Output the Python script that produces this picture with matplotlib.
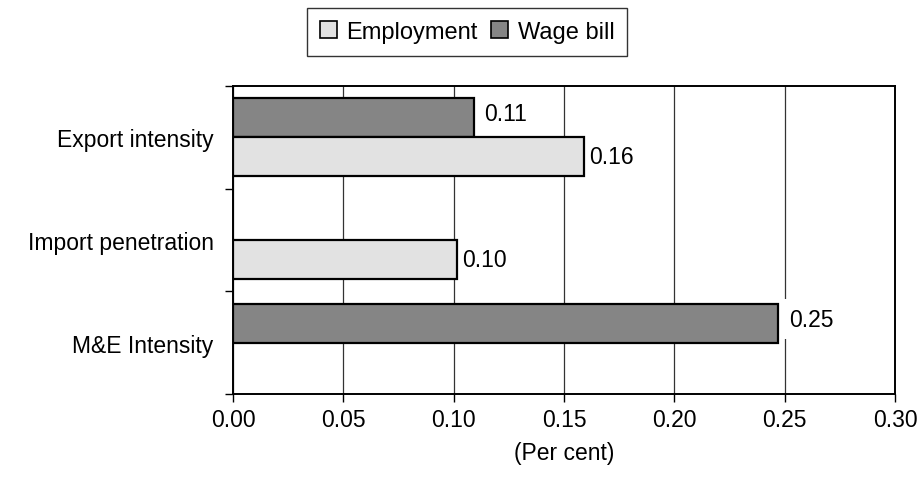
import matplotlib
matplotlib.use("Agg")
import matplotlib.pyplot as plt
from matplotlib.patches import Patch
import numpy as np

# 数据
categories = ["Export intensity", "Import penetration", "M&E Intensity"]
employment = [0.159, 0.1015, None]
wage_bill = [0.109, None, 0.247]
emp_labels = ["0.16", "0.10", None]
wage_labels = ["0.11", None, "0.25"]
xticks = [0.00, 0.05, 0.10, 0.15, 0.20, 0.25, 0.30]

plt.rcParams['font.family'] = ['Liberation Sans', 'DejaVu Sans']
plt.rcParams['font.size'] = 16.5

fig = plt.figure(figsize=(9.2, 4.89), dpi=100)
ax = fig.add_axes([233 / 920, 1 - 395 / 489, (895 - 233) / 920, (395 - 87) / 489])

emp_color = "#e2e2e2"
wage_color = "#858585"
h = 0.38
pos = np.arange(len(categories))

for i, cat in enumerate(categories):
    if wage_bill[i] is not None:
        ax.barh(pos[i] - h / 2, wage_bill[i], height=h, color=wage_color,
                edgecolor="black", linewidth=1.6, zorder=3)
        ax.text(wage_bill[i] + 0.005, pos[i] - h / 2 - 0.04, wage_labels[i],
                va="center", ha="left", zorder=5,
                bbox=dict(facecolor="white", edgecolor="none", pad=6))
    if employment[i] is not None:
        ax.barh(pos[i] + h / 2, employment[i], height=h, color=emp_color,
                edgecolor="black", linewidth=1.6, zorder=3)
        ax.text(employment[i] + 0.0025, pos[i] + h / 2, emp_labels[i],
                va="center", ha="left", zorder=5)

ax.set_xlim(0, 0.30)
ax.set_ylim(len(categories) - 0.5, -0.5)
ax.set_xticks(xticks)
ax.set_xticklabels([f"{v:.2f}" for v in xticks])
ax.set_yticks(pos)
ax.set_yticklabels(categories)
ax.set_yticks(np.arange(-0.5, len(categories), 1.0), minor=True)
ax.tick_params(axis="y", which="major", length=0, pad=14)
ax.tick_params(axis="y", which="minor", length=6, direction="out", width=1)
ax.tick_params(axis="x", length=6, direction="out", width=1, pad=4)
ax.xaxis.grid(True, color="#333333", linewidth=0.9, zorder=0)
ax.set_axisbelow(True)
for s in ax.spines.values():
    s.set_linewidth(1.4)
ax.set_xlabel("(Per cent)", labelpad=7)

# 图例
handles = [Patch(facecolor=emp_color, edgecolor="black", linewidth=1.2),
           Patch(facecolor=wage_color, edgecolor="black", linewidth=1.2)]
leg = fig.legend(handles, ["Employment", "Wage bill"], loc="center",
                 bbox_to_anchor=(467 / 920, 1 - 33 / 489), ncol=2, fontsize=17,
                 frameon=True, fancybox=False, handlelength=0.72, handleheight=0.72,
                 handletextpad=0.42, columnspacing=0.55, borderpad=0.55)
leg.get_frame().set_edgecolor("black")
leg.get_frame().set_linewidth(1.0)

fig.savefig("out.png", dpi=100)
